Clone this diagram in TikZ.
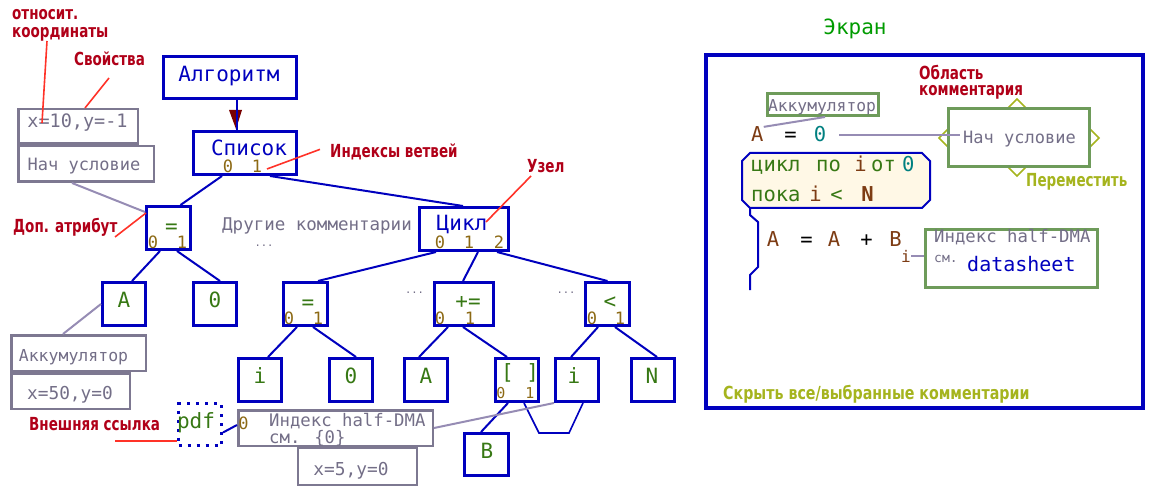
\documentclass[tikz,border=0pt]{standalone}
\usepackage{fontspec}
\setmainfont{DejaVu Sans Mono}
\newfontfamily\rfont{DejaVu Sans}[FakeStretch=0.75]
\newfontfamily\rfontw{DejaVu Sans}[FakeStretch=0.79]
\usetikzlibrary{calc}
\definecolor{nblue}{RGB}{0,0,190}
\definecolor{tgreen}{RGB}{55,120,20}
\definecolor{idx}{RGB}{140,105,20}
\definecolor{tgray}{RGB}{115,110,135}
\definecolor{bgray}{RGB}{125,120,145}
\definecolor{lgray}{RGB}{150,140,180}
\definecolor{lred}{RGB}{176,0,24}
\definecolor{rline}{RGB}{255,50,40}
\definecolor{pgreen}{RGB}{110,155,90}
\definecolor{ygreen}{RGB}{165,180,30}
\definecolor{brn}{RGB}{125,60,20}
\definecolor{teal2}{RGB}{0,128,128}
\definecolor{egreen}{RGB}{0,155,0}
\definecolor{darr}{RGB}{120,0,0}
\definecolor{cream}{RGB}{255,248,230}
\newcommand{\fsz}[1]{\fontsize{#1}{#1}\selectfont}
\begin{document}
\begin{tikzpicture}[x=1pt,y=-1pt,
  tb/.style={draw=nblue,line width=3pt,minimum width=43pt,minimum height=43pt,inner sep=0pt},
  gb/.style={draw=bgray,line width=2.5pt,inner sep=0pt},
  pb/.style={draw=pgreen,line width=3pt,fill=white,inner sep=0pt},
  op/.style={font=\fsz{21},text=tgreen,inner sep=0pt,anchor=base},
  bt/.style={font=\fsz{21},text=nblue,inner sep=0pt,anchor=base},
  ix/.style={font=\fsz{17},text=idx,inner sep=0pt,anchor=base},
  gt/.style={font=\fsz{17.5},text=tgray,inner sep=0pt,anchor=base},
  rl/.style={font=\rfont\bfseries\fsz{18},text=lred,inner sep=0pt,anchor=base west},
  yl/.style={font=\rfont\bfseries\fsz{18},text=ygreen,inner sep=0pt,anchor=base west},
  pt/.style={font=\fsz{20.5},inner sep=0pt,anchor=base},
  conn/.style={draw=nblue,line width=2pt},
  gline/.style={draw=lgray,line width=2pt},
  redl/.style={draw=rline,line width=1.6pt},
  dots/.style={font=\fsz{10.5},text=tgray,inner sep=0pt,anchor=base}
]
\useasboundingbox (0,0) rectangle (1153,494);

% ---------------- left: tree ----------------
\node[tb,minimum width=133,minimum height=42] (alg) at (230,77.5) {};
\node[bt] (algt) at (229,82) {Алгоритм};
\node[tb,minimum width=103,minimum height=43] (sp) at (245,153) {};
\node[bt] (spt) at (249,156) {Список};
\node[ix] (sp0) at (228,173) {0};
\node[ix] (sp1) at (257,173) {1};

\fill[darr] (229,110) -- (242,110) -- (236,129) -- cycle;
\draw[conn] ([xshift=7]alg.south) -- ([xshift=-8]sp.north);

\node[tb,minimum width=44] (eq1) at (168.5,228) {};
\node[op] (eq1t) at (171.5,233.5) {=};
\node[ix] (eq10) at (153,248) {0};
\node[ix] (eq11) at (182,248) {1};

\node[tb,minimum width=89] (cyc) at (464,229) {};
\node[bt] (cyct) at (462,231) {Цикл};
\node[ix] (cy0) at (440,248) {0};
\node[ix] (cy1) at (469,248) {1};
\node[ix] (cy2) at (499,248) {2};

\node[gt] (other) at (317,231) {Другие комментарии};
\node[dots] (od1) at (264,247) {...};

\node[tb] (a2) at (124,304) {};
\node[op] (a2t) at (124,307) {A};
\node[tb] (z2) at (215,304) {};
\node[op] (z2t) at (215,307) {0};

\node[tb,minimum width=44] (eq2) at (305.5,304) {};
\node[op] (eq2t) at (308,309.5) {=};
\node[ix] (eq20) at (289,324) {0};
\node[ix] (eq21) at (318,324) {1};

\node[tb,minimum width=59] (pe) at (464,304) {};
\node[op] (pet) at (468,308) {+=};
\node[ix] (pe0) at (440,324) {0};
\node[ix] (pe1) at (470,324) {1};

\node[tb,minimum width=44] (lt) at (607.5,304) {};
\node[op] (ltt) at (610,308) {<};
\node[ix] (lt0) at (592,324) {0};
\node[ix] (lt1) at (620,324) {1};

\node[dots] (od2) at (414.5,294) {...};
\node[dots] (od3) at (566,294) {...};

\node[tb] (i1) at (260,380) {};
\node[op] (i1t) at (260,383) {i};
\node[tb] (z3) at (351,380) {};
\node[op] (z3t) at (351,383) {0};
\node[tb] (a3) at (426,380) {};
\node[op] (a3t) at (426,383) {A};
\node[tb] (br) at (517,380) {};
\node[op] (brt) at (520,379) {[ ]};
\node[ix,font=\fsz{15}] (br0) at (501,398) {0};
\node[ix,font=\fsz{15}] (br1) at (530,398) {1};
\node[tb] (i3) at (577,380) {};
\node[op] (i3t) at (574,383) {i};
\node[tb] (nn) at (653,380) {};
\node[op] (nnt) at (652,383) {N};
\node[tb,minimum width=44,minimum height=42] (bb) at (486.5,454.5) {};
\node[op] (bbt) at (487,458) {B};

% tree connectors
\draw[conn] ([xshift=-23]sp.south) -- ([xshift=12]eq1.north);
\draw[conn] ([xshift=25]sp.south) -- ([xshift=-1]cyc.north);
\draw[conn] ([xshift=-8.5]eq1.south) -- ([xshift=8]a2.north);
\draw[conn] ([xshift=8.5]eq1.south) -- ([xshift=5]z2.north);
\draw[conn] ([xshift=-28]cyc.south) -- ([xshift=12.5]eq2.north);
\draw[conn] ([xshift=14]cyc.south) -- ([xshift=-1]pe.north);
\draw[conn] ([xshift=33]cyc.south) -- (lt.north);
\draw[conn] ([xshift=-8.5]eq2.south) -- ([xshift=8]i1.north);
\draw[conn] ([xshift=7.5]eq2.south) -- ([xshift=5]z3.north);
\draw[conn] ([xshift=-16]pe.south) -- ([xshift=-7]a3.north);
\draw[conn] ([xshift=-1]pe.south) -- ([xshift=-10]br.north);
\draw[conn] ([xshift=-9.5]lt.south) -- ([xshift=-6]i3.north);
\draw[conn] ([xshift=7.5]lt.south) -- ([xshift=4]nn.north);
\draw[conn] ([xshift=-9]br.south) -- ([xshift=-5.5]bb.north);
\coordinate (lp1) at (539,433);
\coordinate (lp2) at (569,433);
\draw[conn,line width=1.6pt] ([xshift=7]br.south) -- (lp1) -- (lp2) -- ([xshift=6]i3.south);

% gray comment boxes
\node[gb,minimum width=119.5,minimum height=34.5] (prop1) at (78,126.5) {};
\node[gt,font=\fsz{18.5}] (prop1t) at (77.5,128) {x=10,y=-1};
\node[gb,minimum width=135.5,minimum height=35.5] (nach1) at (86,164) {};
\node[gt,font=\fsz{17}] (nach1t) at (84,171) {Нач условие};
\draw[gline] ([xshift=-14]nach1.south) -- ([yshift=-7]eq1.north west);

\node[gb,minimum width=134.5,minimum height=35.5] (acc1) at (78.5,353) {};
\node[gt,font=\fsz{16.5}] (acc1t) at (73.5,361) {Аккумулятор};
\node[gb,minimum width=118.5,minimum height=35.5] (xy50) at (70.5,391) {};
\node[gt,font=\fsz{17.8}] (xy50t) at (70,399) {x=50,y=0};
\draw[gline] (a2.west) -- ([xshift=-15.5]acc1.north);

\node[gb,minimum width=194.5,minimum height=35.5] (hdma) at (335.5,428) {};
\node[ix] (hd0) at (243.5,429) {0};
\node[gt,font=\fsz{17.3},anchor=base west] (hdt1) at (269,426) {Индекс half-DMA};
\node[gt,font=\fsz{17.3},anchor=base west] (hdt2) at (269,443) {см. \{0\}};
\node[gb,line width=2pt,minimum width=119,minimum height=37] (xy5) at (357.5,466.5) {};
\node[gt,font=\fsz{17.8}] (xy5t) at (351,475) {x=5,y=0};
\draw[gline] (hdma.east) -- (i3.south west);

\node[draw=nblue,line width=3pt,dash pattern=on 3pt off 6pt,minimum width=43,minimum height=42,inner sep=0pt] (pdf) at (200,424.5) {};
\node[op] (pdft) at (196,428) {pdf};
\draw[conn] ([yshift=-8]pdf.east) -- ([yshift=3]hdma.west);

% red annotations
\node[rl] (rc1) at (12,20) {относит.};
\node[rl] (rc2) at (12,38) {координаты};
\coordinate (rc2p) at (47,41);
\coordinate (rc2q) at (42,123);
\draw[redl] (rc2p) -- (rc2q);
\node[rl] (rsv) at (74,66) {Свойства};
\coordinate (rsvp) at (109,78);
\coordinate (rsvq) at (85,108);
\draw[redl] (rsvp) -- (rsvq);
\node[rl] (rix) at (330,158) {Индексы ветвей};
\coordinate (rixq) at (267,169);
\draw[redl] ([xshift=-10,yshift=3]rix.west) -- (rixq);
\node[rl] (rdop) at (13,233) {Доп. атрибут};
\coordinate (rdopp) at (115,237);
\coordinate (rdopq) at (146,213);
\draw[redl] (rdopp) -- (rdopq);
\node[rl] (ruz) at (527,173) {Узел};
\coordinate (ruzp) at (531,176);
\coordinate (ruzq) at (486,222);
\draw[redl] (ruzp) -- (ruzq);
\node[rl] (rext) at (29,430) {Внешняя ссылка};
\coordinate (rextp) at (115,441);
\draw[redl] (rextp) -- (rextp -| pdf.west);

% ---------------- right: screen ----------------
\node[font=\fsz{21},text=egreen,inner sep=0pt,anchor=base] (scr) at (855,35) {Экран};
\node[draw=nblue,line width=4pt,minimum width=437,minimum height=353,inner sep=0pt] (panel) at (924.5,231.5) {};

\node[rl] (rob1) at (919,80) {Область};
\node[rl] (rob2) at (919,96) {комментария};

\node[pb,minimum width=111,minimum height=22] (accR) at (823,104.5) {};
\node[gt,font=\fsz{16.3}] (accRt) at (822,112) {Аккумулятор};

\node[pt,text=brn,anchor=base west] (aR) at (751,142) {A};
\node[pt] (eqR) at (790.5,142) {=};
\node[pt,text=teal2] (zR) at (820,142) {0};
\draw[gline] (aR.north east) -- ([xshift=2]accR.south);

\foreach \p in {(1017,107),(947,138),(1091,138),(1017,168)}
  \draw[ygreen,line width=1.5pt] \p ++(-8,0) -- ++(8,-8) -- ++(8,8) -- ++(-8,8) -- cycle;
\node[pb,minimum width=141,minimum height=58] (nachR) at (1019,137.5) {};
\node[gt,font=\fsz{17}] (nachRt) at (1019.5,144) {Нач условие};
\node[yl] (move) at (1026,187) {Переместить};
\draw[gline] ([xshift=13]zR.east) -- ([xshift=13]zR.east -| nachR.west);

\draw[nblue,line width=2pt,fill=cream] (750,153) -- (922,153) -- (930,161) -- (930,200) -- (922,208) -- (750,208) -- (742,200) -- (742,161) -- cycle;
\node[pt,text=tgreen,anchor=base west] (l1a) at (751,172) {цикл};
\node[pt,text=tgreen,anchor=base west] (l1b) at (816,172) {по};
\node[pt,text=brn] (l1c) at (860.5,172) {i};
\node[pt,text=tgreen,anchor=base west] (l1d) at (871,172) {от};
\node[pt,text=teal2,anchor=base west] (l1e) at (902,172) {0};
\node[pt,text=tgreen,anchor=base west] (l2a) at (751,202) {пока};
\node[pt,text=brn] (l2b) at (815.5,202) {i};
\node[pt,text=tgreen] (l2c) at (836.5,202) {<};
\node[pt,text=brn,font=\fsz{20.5}\bfseries] (l2d) at (867.5,202) {N};
\coordinate (b1) at (750,215);
\coordinate (b2) at (758,222);
\coordinate (b3) at (758,267);
\coordinate (b4) at (750,275);
\coordinate (b5) at (750,290);
\draw[nblue,line width=2pt] (750,208) -- (b1) -- (b2) -- (b3) -- (b4) -- (b5);

\node[pt,text=brn] (s1) at (773,247) {A};
\node[pt] (s2) at (806.5,247) {=};
\node[pt,text=brn] (s3) at (834,247) {A};
\node[pt] (s4) at (866.5,247) {+};
\node[pt,text=brn] (s5) at (895.5,247) {B};
\node[pt,text=brn,font=\fsz{16}] (s6) at (906,262) {i};

\node[pb,minimum width=172,minimum height=58] (hdmaR) at (1011.5,258.5) {};
\node[gt,font=\fsz{17.3},anchor=base west] (hdR1) at (934,243) {Индекс half-DMA};
\node[gt,font=\fsz{13},anchor=base west] (hdR2) at (934,262) {см.};
\node[bt,font=\fsz{20},anchor=base west] (hdR3) at (967,272) {datasheet};
\draw[gline] (s6.east) -- (s6.east -| hdmaR.west);

\node[font=\rfontw\bfseries\fsz{18},text=ygreen,inner sep=0pt,anchor=base west] (hide) at (723,399) {Скрыть все/выбранные комментарии};
\end{tikzpicture}
\end{document}
